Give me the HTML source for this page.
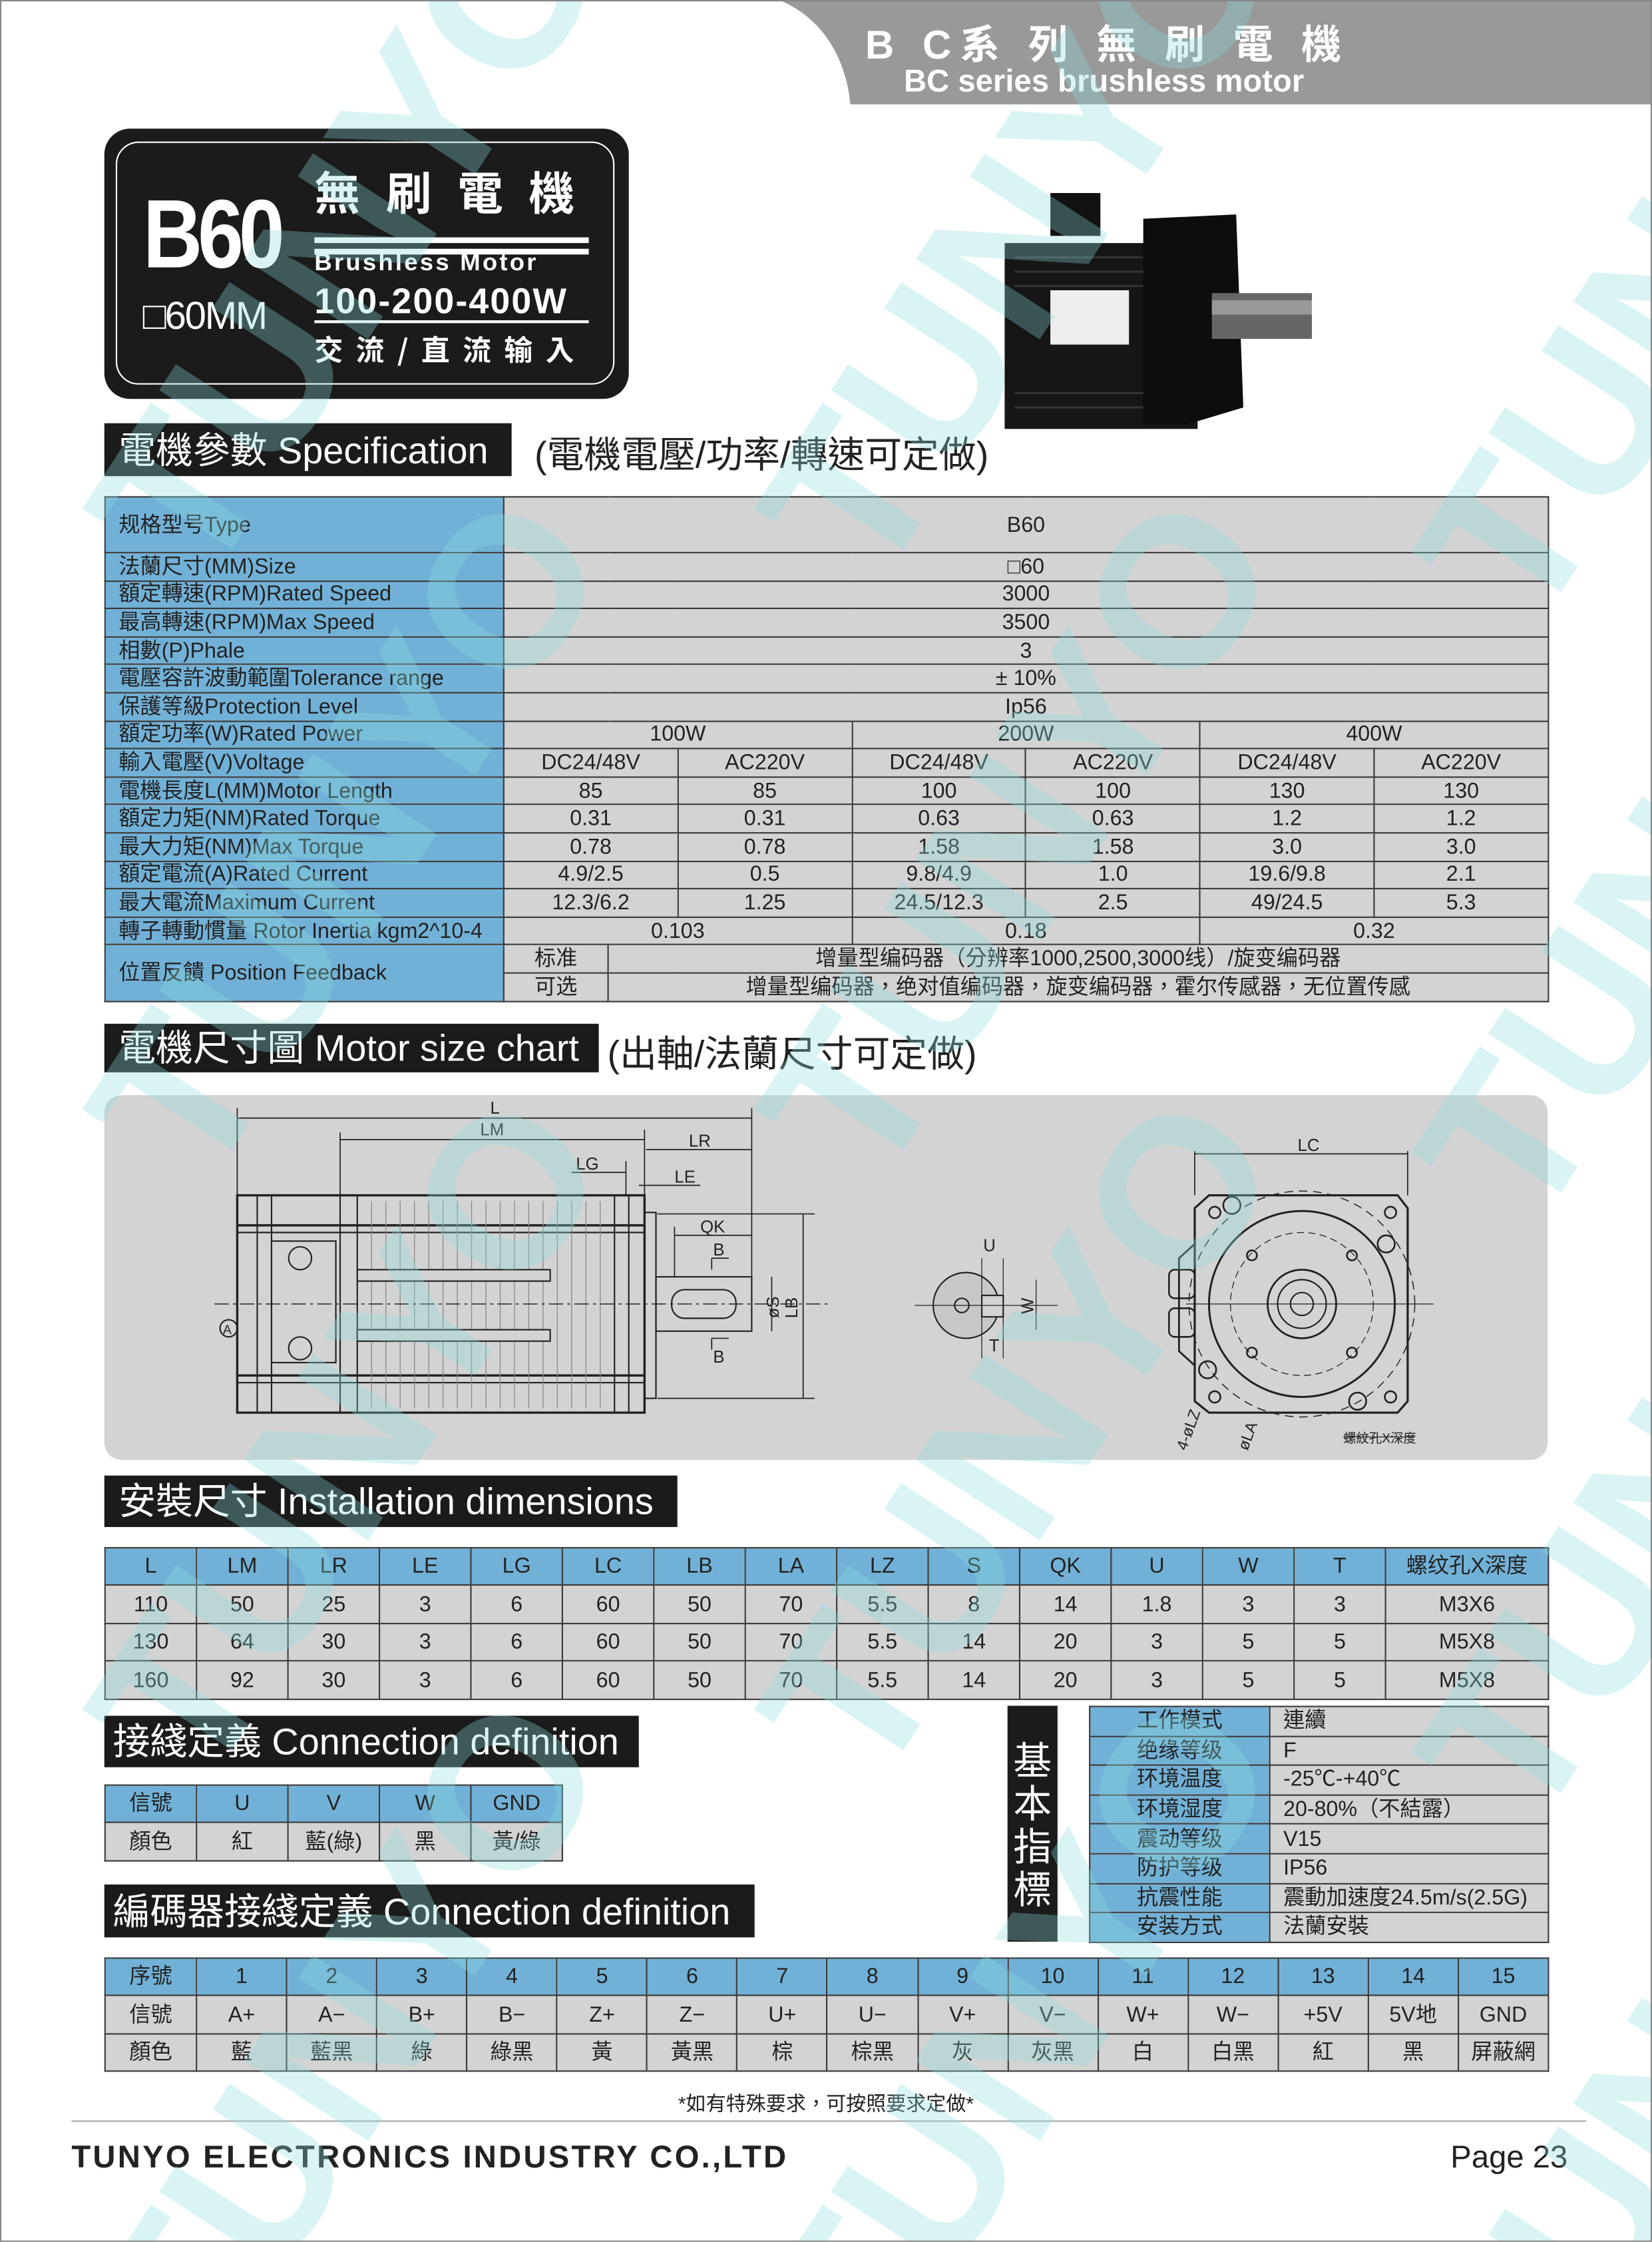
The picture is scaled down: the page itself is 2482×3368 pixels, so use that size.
<!DOCTYPE html>
<html style="overflow:hidden;width:2482px;height:3368px;"><head><meta charset="utf-8">
<style>
html,body{margin:0;padding:0;background:#fff;}
body{width:2482px;height:3368px;overflow:hidden;position:relative;}
#wrap{position:absolute;left:0;top:0;width:2482px;height:3368px;overflow:hidden;}
#pg{position:absolute;left:0;top:0;width:1156px;height:1568px;overflow:hidden;transform:scale(2.1471,2.1479);transform-origin:0 0;font-family:"Liberation Sans Narrow","Liberation Sans","Noto Sans CJK TC",sans-serif;color:#222;}
.a{position:absolute;}
.bar{position:absolute;background:#1b1b1b;color:#fff;font-size:26px;line-height:1;white-space:nowrap;padding-left:10px;box-sizing:border-box;display:flex;align-items:center;font-family:"Liberation Sans Narrow","Liberation Sans","Noto Sans CJK TC",sans-serif;overflow:hidden;}
table{border-collapse:collapse;position:absolute;table-layout:fixed;}
td{border:1.5px solid #3a3a3a;padding:0;text-align:center;font-size:15px;line-height:1;white-space:nowrap;overflow:hidden;}
.b{background:#72b1d7;}
.g{background:#d3d3d3;}
.l{text-align:left;padding-left:9px;}
.wm{position:absolute;font-family:"Liberation Sans",sans-serif;font-weight:bold;font-size:150px;color:rgba(140,220,225,0.32);transform:rotate(-57deg);white-space:nowrap;line-height:1;pointer-events:none;}
</style></head><body><div id="wrap"><div id="pg">

<svg class="a" style="left:0;top:0" width="1156" height="80">
<path d="M545,0 H1156 V73 H595 C592,40 575,12 545,0 Z" fill="#999"/>
</svg>
<div class="a" style="left:600px;top:10px;width:350px;text-align:center;color:#fff;font-size:28px;font-weight:bold;letter-spacing:6px;font-family:'Liberation Sans','Noto Sans CJK TC',sans-serif;">B C系 列 無 刷 電 機</div>
<div class="a" style="left:600px;top:44px;width:345px;text-align:center;color:#fff;font-size:22px;font-weight:bold;font-family:'Liberation Sans',sans-serif;">BC series brushless motor</div>

<div class="a" style="left:73px;top:90px;width:367px;height:189px;background:#1b1b1b;border-radius:18px;"></div>
<div class="a" style="left:81px;top:99px;width:349px;height:170px;border:1.5px solid #fff;border-radius:16px;box-sizing:border-box;"></div>
<div class="a" style="left:100px;top:130px;color:#fff;font-size:68px;font-weight:bold;font-family:'Liberation Sans',sans-serif;letter-spacing:-4px;line-height:1;transform:scaleX(0.85);transform-origin:0 0;">B60</div>
<div class="a" style="left:220px;top:118px;color:#fff;font-size:32px;font-weight:bold;letter-spacing:18px;font-family:'Noto Sans CJK TC',sans-serif;line-height:1;">無刷電機</div>
<div class="a" style="left:220px;top:166px;width:192px;height:4px;background:#fff;"></div>
<div class="a" style="left:220px;top:174px;width:192px;height:4px;background:#fff;"></div>
<div class="a" style="left:220px;top:174px;color:#fff;font-size:17px;font-weight:bold;letter-spacing:1.5px;font-family:'Liberation Sans',sans-serif;">Brushless Motor</div>
<div class="a" style="left:100px;top:206px;color:#fff;font-size:27px;font-family:'Liberation Sans',sans-serif;letter-spacing:-1px;">□60MM</div>
<div class="a" style="left:220px;top:197px;color:#fff;font-size:25px;font-weight:bold;letter-spacing:1px;font-family:'Liberation Sans',sans-serif;">100-200-400W</div>
<div class="a" style="left:220px;top:224px;width:192px;height:2px;background:#fff;"></div>
<div class="a" style="left:220px;top:229px;color:#fff;font-size:20px;font-weight:bold;letter-spacing:9px;font-family:'Noto Sans CJK TC',sans-serif;">交流/直流输入</div>

<svg class="a" style="left:690px;top:125px" width="240" height="180">
<rect x="45" y="10" width="35" height="30" fill="#111"/>
<rect x="13" y="45" width="135" height="130" fill="#161616"/>
<g stroke="#333" stroke-width="1.5">
<line x1="20" y1="55" x2="140" y2="55"/><line x1="20" y1="65" x2="140" y2="65"/><line x1="20" y1="75" x2="140" y2="75"/><line x1="20" y1="150" x2="140" y2="150"/><line x1="20" y1="160" x2="140" y2="160"/></g>
<path d="M110,28 L175,25 L180,160 L140,172 L110,172 Z" fill="#0d0d0d"/>
<rect x="45" y="78" width="55" height="38" fill="#eee"/>
<rect x="158" y="80" width="70" height="32" fill="#666"/>
<rect x="158" y="85" width="70" height="10" fill="#999"/>
</svg>

<div class="bar" style="left:73px;top:296px;width:285px;height:37px;">電機參數 Specification</div>
<div class="a" style="left:374px;top:298px;font-size:26px;font-family:'Liberation Sans','Noto Sans CJK TC',sans-serif;">(電機電壓/功率/轉速可定做)</div>

<table style="left:73px;top:347px;width:1010px;">
<colgroup><col style="width:279px"><col style="width:73px"><col style="width:48.8px"><col style="width:121.8px"><col style="width:121.8px"><col style="width:121.8px"><col style="width:121.8px"><col style="width:121.8px"></colgroup>
<tr style="height:39px"><td class="b l">规格型号Type</td><td class="g" colspan="7">B60</td></tr>
<tr style="height:19.6px"><td class="b l">法蘭尺寸(MM)Size</td><td class="g" colspan="7">□60</td></tr>
<tr style="height:19.6px"><td class="b l">額定轉速(RPM)Rated Speed</td><td class="g" colspan="7">3000</td></tr>
<tr style="height:19.6px"><td class="b l">最高轉速(RPM)Max Speed</td><td class="g" colspan="7">3500</td></tr>
<tr style="height:19.6px"><td class="b l">相數(P)Phale</td><td class="g" colspan="7">3</td></tr>
<tr style="height:19.6px"><td class="b l">電壓容許波動範圍Tolerance range</td><td class="g" colspan="7">± 10%</td></tr>
<tr style="height:19.6px"><td class="b l">保護等級Protection Level</td><td class="g" colspan="7">Ip56</td></tr>
<tr style="height:19.6px"><td class="b l">額定功率(W)Rated Power</td><td class="g" colspan="3">100W</td><td class="g" colspan="2">200W</td><td class="g" colspan="2">400W</td></tr>
<tr style="height:19.6px"><td class="b l">輸入電壓(V)Voltage</td><td class="g" colspan="2">DC24/48V</td><td class="g">AC220V</td><td class="g">DC24/48V</td><td class="g">AC220V</td><td class="g">DC24/48V</td><td class="g">AC220V</td></tr>
<tr style="height:19.6px"><td class="b l">電機長度L(MM)Motor Length</td><td class="g" colspan="2">85</td><td class="g">85</td><td class="g">100</td><td class="g">100</td><td class="g">130</td><td class="g">130</td></tr>
<tr style="height:19.6px"><td class="b l">額定力矩(NM)Rated Torque</td><td class="g" colspan="2">0.31</td><td class="g">0.31</td><td class="g">0.63</td><td class="g">0.63</td><td class="g">1.2</td><td class="g">1.2</td></tr>
<tr style="height:19.6px"><td class="b l">最大力矩(NM)Max Torque</td><td class="g" colspan="2">0.78</td><td class="g">0.78</td><td class="g">1.58</td><td class="g">1.58</td><td class="g">3.0</td><td class="g">3.0</td></tr>
<tr style="height:19.6px"><td class="b l">額定電流(A)Rated Current</td><td class="g" colspan="2">4.9/2.5</td><td class="g">0.5</td><td class="g">9.8/4.9</td><td class="g">1.0</td><td class="g">19.6/9.8</td><td class="g">2.1</td></tr>
<tr style="height:19.6px"><td class="b l">最大電流Maximum Current</td><td class="g" colspan="2">12.3/6.2</td><td class="g">1.25</td><td class="g">24.5/12.3</td><td class="g">2.5</td><td class="g">49/24.5</td><td class="g">5.3</td></tr>
<tr style="height:19.6px"><td class="b l">轉子轉動慣量 Rotor Inertia kgm2^10-4</td><td class="g" colspan="3">0.103</td><td class="g" colspan="2">0.18</td><td class="g" colspan="2">0.32</td></tr>
<tr style="height:20px"><td class="b l" rowspan="2">位置反饋 Position Feedback</td><td class="g">标准</td><td class="g" colspan="6">增量型编码器（分辨率1000,2500,3000线）/旋变编码器</td></tr>
<tr style="height:20px"><td class="g">可选</td><td class="g" colspan="6">增量型编码器，绝对值编码器，旋变编码器，霍尔传感器，无位置传感</td></tr>
</table>

<div class="bar" style="left:73px;top:716px;width:346px;height:34px;">電機尺寸圖 Motor size chart</div>
<div class="a" style="left:425px;top:717px;font-size:26px;font-family:'Liberation Sans','Noto Sans CJK TC',sans-serif;">(出軸/法蘭尺寸可定做)</div>
<div class="a" style="left:73px;top:766px;width:1010px;height:255px;background:#d3d3d3;border-radius:12px;"></div>

<svg class="a" style="left:0;top:0" width="1156" height="1100" font-family="Liberation Sans, sans-serif" font-size="12" fill="none" stroke="#222" stroke-width="1">
<rect x="166" y="836" width="285" height="152" stroke-width="1.6"/>
<line x1="180" y1="836" x2="180" y2="988"/><line x1="190" y1="836" x2="190" y2="988"/>
<line x1="238" y1="836" x2="238" y2="988"/><line x1="250" y1="836" x2="250" y2="988"/>
<line x1="430" y1="836" x2="430" y2="988"/><line x1="440" y1="836" x2="440" y2="988"/>
<line x1="166" y1="857" x2="451" y2="857" stroke-width="1.6"/><line x1="166" y1="862" x2="451" y2="862"/>
<line x1="166" y1="962" x2="451" y2="962" stroke-width="1.6"/><line x1="166" y1="967" x2="451" y2="967"/>
<g stroke="#888" stroke-width="0.6">
<line x1="260" y1="840" x2="260" y2="985"/><line x1="270" y1="840" x2="270" y2="985"/><line x1="280" y1="840" x2="280" y2="985"/><line x1="290" y1="840" x2="290" y2="985"/><line x1="300" y1="840" x2="300" y2="985"/><line x1="310" y1="840" x2="310" y2="985"/><line x1="320" y1="840" x2="320" y2="985"/><line x1="330" y1="840" x2="330" y2="985"/><line x1="340" y1="840" x2="340" y2="985"/><line x1="350" y1="840" x2="350" y2="985"/><line x1="360" y1="840" x2="360" y2="985"/><line x1="370" y1="840" x2="370" y2="985"/><line x1="380" y1="840" x2="380" y2="985"/><line x1="390" y1="840" x2="390" y2="985"/><line x1="400" y1="840" x2="400" y2="985"/><line x1="410" y1="840" x2="410" y2="985"/><line x1="420" y1="840" x2="420" y2="985"/></g>
<rect x="190" y="868" width="45" height="85" fill="#d3d3d3"/>
<circle cx="210" cy="880" r="8"/><circle cx="210" cy="943" r="8"/>
<rect x="250" y="888" width="135" height="8" fill="#d3d3d3"/><rect x="250" y="930" width="135" height="8" fill="#d3d3d3"/>
<rect x="451" y="848" width="8" height="130"/>
<rect x="459" y="893" width="67" height="38"/>
<rect x="470" y="902" width="45" height="20" rx="9"/>
<line x1="150" y1="912" x2="580" y2="912" stroke-dasharray="10,3,2,3" stroke-width="0.7"/>
<g stroke-width="0.8">
<line x1="166" y1="775" x2="166" y2="836"/><line x1="526" y1="775" x2="526" y2="893"/>
<line x1="238" y1="792" x2="238" y2="836"/><line x1="451" y1="790" x2="451" y2="836"/>
<line x1="166" y1="782" x2="526" y2="782"/><line x1="238" y1="797" x2="451" y2="797"/>
<line x1="452" y1="804" x2="526" y2="804"/>
<line x1="400" y1="820" x2="438" y2="820"/><line x1="438" y1="812" x2="438" y2="836"/>
<line x1="447" y1="829" x2="490" y2="829"/>
<line x1="472" y1="864" x2="526" y2="864"/><line x1="472" y1="858" x2="472" y2="893"/>
<line x1="460" y1="849" x2="570" y2="849"/><line x1="460" y1="978" x2="570" y2="978"/>
<line x1="562" y1="849" x2="562" y2="978"/>
<line x1="540" y1="893" x2="540" y2="931"/>
<line x1="498" y1="880" x2="498" y2="888"/><line x1="498" y1="880" x2="510" y2="880"/>
<line x1="498" y1="936" x2="498" y2="944"/><line x1="498" y1="936" x2="510" y2="936"/>
</g>
<g fill="#222" stroke="none">
<text x="343" y="779">L</text><text x="336" y="794">LM</text><text x="482" y="802">LR</text><text x="403" y="818">LG</text><text x="472" y="827">LE</text><text x="490" y="862">QK</text><text x="499" y="878">B</text><text x="499" y="953">B</text>
<text transform="translate(545,922) rotate(-90)">øS</text><text transform="translate(558,922) rotate(-90)">LB</text>
<text x="908" y="805">LC</text><text x="688" y="875">U</text><text x="712" y="918" transform="rotate(-90 718 913)">W</text><text x="692" y="945">T</text>
<text transform="translate(830,1015) rotate(-70)" font-size="11">4-øLZ</text><text transform="translate(873,1015) rotate(-70)" font-size="11">øLA</text>
<text x="940" y="1009" font-size="9">螺紋孔X深度</text>
</g>
<circle cx="160" cy="929" r="6"/><text x="156" y="933" font-size="9" fill="#222" stroke="none">A</text>
<circle cx="676" cy="913" r="23" fill="#c8c8c8"/>
<circle cx="673" cy="913" r="5"/>
<rect x="687" y="906" width="15" height="15" fill="#d3d3d3"/>
<line x1="640" y1="913" x2="740" y2="913" stroke-width="0.6"/>
<line x1="687" y1="880" x2="687" y2="950" stroke-width="0.6"/><line x1="702" y1="880" x2="702" y2="950" stroke-width="0.6"/>
<line x1="725" y1="895" x2="725" y2="930" stroke-width="0.6"/>
<path d="M846,836 H978 L985,845 V980 L978,988 H846 L836,980 V845 Z" stroke-width="1.5"/>
<path d="M836,870 L825,880 V945 L836,955" stroke-width="1.3"/>
<circle cx="911" cy="912" r="65" stroke-width="1.4"/>
<circle cx="911" cy="912" r="79" stroke-dasharray="6,4" stroke-width="0.7"/>
<circle cx="911" cy="912" r="50" stroke-dasharray="5,3" stroke-width="0.6"/>
<circle cx="911" cy="912" r="24" stroke-width="1.3"/><circle cx="911" cy="912" r="17"/><circle cx="911" cy="912" r="8"/>
<g stroke-width="1.2"><circle cx="850" cy="848" r="4"/><circle cx="973" cy="848" r="4"/><circle cx="850" cy="977" r="4"/><circle cx="973" cy="977" r="4"/>
<circle cx="876" cy="878" r="3.5"/><circle cx="946" cy="878" r="3.5"/><circle cx="876" cy="946" r="3.5"/><circle cx="946" cy="946" r="3.5"/>
<circle cx="862" cy="843" r="6"/><circle cx="970" cy="870" r="6"/><circle cx="845" cy="958" r="6"/><circle cx="950" cy="980" r="6"/>
<rect x="818" y="888" width="18" height="20" rx="4"/><rect x="818" y="915" width="18" height="20" rx="4"/></g>
<line x1="836" y1="805" x2="836" y2="836" stroke-width="0.8"/><line x1="985" y1="805" x2="985" y2="836" stroke-width="0.8"/>
<line x1="836" y1="807" x2="985" y2="807" stroke-width="0.8"/>
<line x1="830" y1="912" x2="1003" y2="912" stroke-width="0.6"/>
<line x1="940" y1="1005" x2="990" y2="1005" stroke-width="0.6"/>
</svg>

<div class="bar" style="left:73px;top:1032px;width:401px;height:36px;">安裝尺寸 Installation dimensions</div>
<table style="left:73px;top:1082px;width:1010px;">
<colgroup><col style="width:64px"><col style="width:64px"><col style="width:64px"><col style="width:64px"><col style="width:64px"><col style="width:64px"><col style="width:64px"><col style="width:64px"><col style="width:64px"><col style="width:64px"><col style="width:64px"><col style="width:64px"><col style="width:64px"><col style="width:64px"><col style="width:114px"></colgroup>
<tr style="height:26px" class="b"><td>L</td><td>LM</td><td>LR</td><td>LE</td><td>LG</td><td>LC</td><td>LB</td><td>LA</td><td>LZ</td><td>S</td><td>QK</td><td>U</td><td>W</td><td>T</td><td>螺纹孔X深度</td></tr>
<tr style="height:27px" class="g"><td>110</td><td>50</td><td>25</td><td>3</td><td>6</td><td>60</td><td>50</td><td>70</td><td>5.5</td><td>8</td><td>14</td><td>1.8</td><td>3</td><td>3</td><td>M3X6</td></tr>
<tr style="height:26px" class="g"><td>130</td><td>64</td><td>30</td><td>3</td><td>6</td><td>60</td><td>50</td><td>70</td><td>5.5</td><td>14</td><td>20</td><td>3</td><td>5</td><td>5</td><td>M5X8</td></tr>
<tr style="height:27px" class="g"><td>160</td><td>92</td><td>30</td><td>3</td><td>6</td><td>60</td><td>50</td><td>70</td><td>5.5</td><td>14</td><td>20</td><td>3</td><td>5</td><td>5</td><td>M5X8</td></tr>
</table>

<div class="bar" style="left:73px;top:1200px;width:374px;height:36px;padding-left:6px;">接綫定義 Connection definition</div>
<table style="left:73px;top:1248px;width:320px;">
<colgroup><col style="width:64px"><col style="width:64px"><col style="width:64px"><col style="width:64px"><col style="width:64px"></colgroup>
<tr style="height:26px" class="b"><td>信號</td><td>U</td><td>V</td><td>W</td><td>GND</td></tr>
<tr style="height:27px" class="g"><td>顏色</td><td>紅</td><td>藍(綠)</td><td>黑</td><td>黃/綠</td></tr>
</table>
<div class="bar" style="left:73px;top:1318px;width:455px;height:37px;padding-left:6px;">編碼器接綫定義 Connection definition</div>

<div class="a" style="left:705px;top:1193px;width:35px;height:165px;background:#1b1b1b;color:#fff;font-size:27px;line-height:30px;text-align:center;padding-top:22px;box-sizing:border-box;font-family:'Noto Sans CJK TC',sans-serif;">基<br>本<br>指<br>標</div>
<table style="left:762px;top:1193px;width:321px;">
<colgroup><col style="width:126px"><col style="width:195px"></colgroup>
<tr style="height:20.6px"><td class="b">工作模式</td><td class="g l">連續</td></tr>
<tr style="height:20.6px"><td class="b">绝缘等级</td><td class="g l">F</td></tr>
<tr style="height:20.6px"><td class="b">环境温度</td><td class="g l">-25℃-+40℃</td></tr>
<tr style="height:20.6px"><td class="b">环境湿度</td><td class="g l">20-80%（不結露）</td></tr>
<tr style="height:20.6px"><td class="b">震动等级</td><td class="g l">V15</td></tr>
<tr style="height:20.6px"><td class="b">防护等级</td><td class="g l">IP56</td></tr>
<tr style="height:20.6px"><td class="b">抗震性能</td><td class="g l">震動加速度24.5m/s(2.5G)</td></tr>
<tr style="height:20.6px"><td class="b">安装方式</td><td class="g l">法蘭安裝</td></tr>
</table>

<table style="left:73px;top:1369px;width:1010px;">
<colgroup><col style="width:64px"><col style="width:63.07px"><col style="width:63.07px"><col style="width:63.07px"><col style="width:63.07px"><col style="width:63.07px"><col style="width:63.07px"><col style="width:63.07px"><col style="width:63.07px"><col style="width:63.07px"><col style="width:63.07px"><col style="width:63.07px"><col style="width:63.07px"><col style="width:63.07px"><col style="width:63.07px"><col style="width:63.07px"></colgroup>
<tr style="height:26.4px" class="b"><td>序號</td><td>1</td><td>2</td><td>3</td><td>4</td><td>5</td><td>6</td><td>7</td><td>8</td><td>9</td><td>10</td><td>11</td><td>12</td><td>13</td><td>14</td><td>15</td></tr>
<tr style="height:26.4px" class="g"><td>信號</td><td>A+</td><td>A−</td><td>B+</td><td>B−</td><td>Z+</td><td>Z−</td><td>U+</td><td>U−</td><td>V+</td><td>V−</td><td>W+</td><td>W−</td><td>+5V</td><td>5V地</td><td>GND</td></tr>
<tr style="height:26.4px" class="g"><td>顏色</td><td>藍</td><td>藍黑</td><td>綠</td><td>綠黑</td><td>黃</td><td>黃黑</td><td>棕</td><td>棕黑</td><td>灰</td><td>灰黑</td><td>白</td><td>白黑</td><td>紅</td><td>黑</td><td>屏蔽網</td></tr>
</table>

<div class="a" style="left:378px;top:1461px;width:400px;text-align:center;font-size:14px;">*如有特殊要求，可按照要求定做*</div>
<div class="a" style="left:50px;top:1483px;width:1060px;height:1px;background:#aaa;"></div>
<div class="a" style="left:50px;top:1496px;font-size:22px;font-weight:bold;letter-spacing:1.5px;font-family:'Liberation Sans',sans-serif;">TUNYO ELECTRONICS INDUSTRY CO.,LTD</div>
<div class="a" style="left:1015px;top:1496px;font-size:22px;font-family:'Liberation Sans',sans-serif;">Page 23</div>

<div class="wm" style="left:-20px;top:90px;">TUNYO</div>
<div class="wm" style="left:450px;top:90px;">TUNYO</div>
<div class="wm" style="left:910px;top:120px;">TUNYO</div>
<div class="wm" style="left:-20px;top:510px;">TUNYO</div>
<div class="wm" style="left:450px;top:510px;">TUNYO</div>
<div class="wm" style="left:910px;top:540px;">TUNYO</div>
<div class="wm" style="left:-20px;top:930px;">TUNYO</div>
<div class="wm" style="left:450px;top:930px;">TUNYO</div>
<div class="wm" style="left:910px;top:960px;">TUNYO</div>
<div class="wm" style="left:-20px;top:1350px;">TUNYO</div>
<div class="wm" style="left:450px;top:1350px;">TUNYO</div>
<div class="wm" style="left:910px;top:1380px;">TUNYO</div>

<div class="a" style="left:0;top:0;width:1156px;height:1568px;border:1px solid #888;box-sizing:border-box;"></div>
</div></div></body></html>
